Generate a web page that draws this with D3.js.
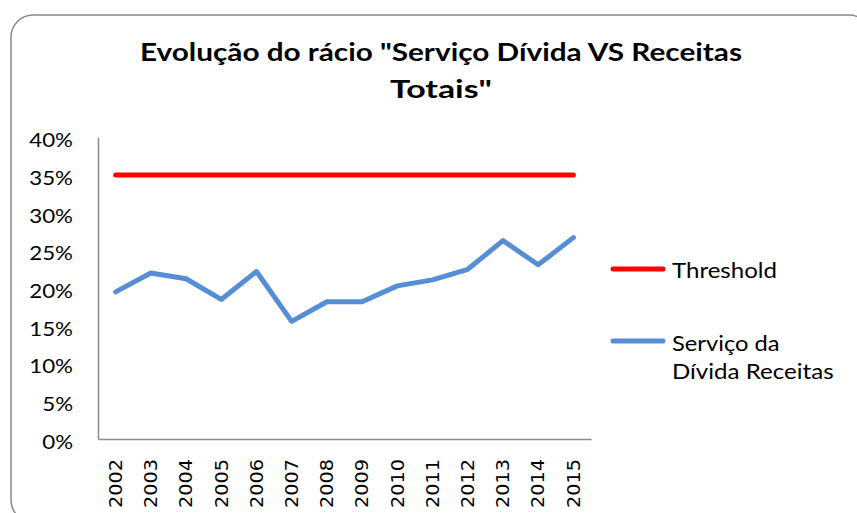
<!DOCTYPE html>
<html>
<head>
<meta charset="utf-8">
<script src="https://cdn.jsdelivr.net/npm/d3@7"></script>
<style>
  html, body { margin: 0; padding: 0; background: #fff; }
  svg { display: block; }
</style>
</head>
<body>
<svg id="chart" width="857" height="513"></svg>
<script>
const years = ["2002","2003","2004","2005","2006","2007","2008","2009","2010","2011","2012","2013","2014","2015"];
const servico = [19.5, 22.0, 21.25, 18.5, 22.2, 15.6, 18.2, 18.2, 20.3, 21.1, 22.5, 26.3, 23.1, 26.7];
const threshold = [35, 35, 35, 35, 35, 35, 35, 35, 35, 35, 35, 35, 35, 35];
const yTicks = [0, 5, 10, 15, 20, 25, 30, 35, 40];
const titleLines = ["Evolução do rácio \"Serviço Dívida VS Receitas", "Totais\""];
const seriesNames = ["Threshold", ["Serviço da", "Dívida Receitas"]];

(function () {
const svg = d3.select("#chart");
const stretch = 1.2;

// chart border
svg.append("rect")
  .attr("x", 11).attr("y", 15).attr("width", 860).attr("height", 507)
  .attr("rx", 22).attr("ry", 22)
  .attr("fill", "#fff").attr("stroke", "#898989").attr("stroke-width", 1.5);

// title
const titleWidths = [602, 102];
const titleY = [61, 98];
titleLines.forEach((t, i) => {
  svg.append("text")
    .attr("x", 441).attr("y", titleY[i])
    .attr("text-anchor", "middle")
    .attr("font-family", "Lato, 'Open Sans', sans-serif")
    .attr("font-weight", "bold")
    .attr("font-size", 25)
    .attr("fill", "#000")
    .attr("textLength", titleWidths[i])
    .attr("lengthAdjust", "spacingAndGlyphs")
    .text(t);
});

const mLeft = 98, mRight = 591, mTop = 137.3, mBottom = 439;
const x = d3.scaleBand().domain(years).range([mLeft, mRight]);
const y = d3.scaleLinear().domain([0, 40]).range([mBottom, mTop]);
const cx = d => x(d) + x.bandwidth() / 2;

// y axis
const yAxis = svg.append("g").attr("transform", `translate(${mLeft},0)`)
  .call(d3.axisLeft(y).tickValues(yTicks).tickSize(0).tickPadding(25).tickFormat(d => d + "%"));
yAxis.select(".domain").attr("stroke", "#8c8c8c").attr("stroke-width", 1.5);
yAxis.selectAll("text")
  .attr("font-family", "Lato, sans-serif")
  .attr("font-size", 18.6)
  .attr("fill", "#000")
  .attr("dy", "0.5em");

// x axis
const xAxis = svg.append("g").attr("transform", `translate(0,${mBottom})`)
  .call(d3.axisBottom(x).tickSize(0).tickFormat(""));
xAxis.select(".domain").attr("stroke", "#8c8c8c").attr("stroke-width", 1.5);

svg.append("g").selectAll("text").data(years).join("text")
  .attr("transform", d => `translate(${cx(d)},459) rotate(-90)`)
  .attr("text-anchor", "end")
  .attr("dy", "0.36em")
  .attr("font-family", "'DejaVu Sans', sans-serif")
  .attr("font-size", 17.4)
  .attr("fill", "#000")
  .attr("textLength", 49)
  .attr("lengthAdjust", "spacingAndGlyphs")
  .text(d => d);

// lines
const line = d3.line().x((d, i) => cx(years[i])).y(d => y(d));
svg.append("path").datum(threshold)
  .attr("d", line).attr("fill", "none")
  .attr("stroke", "#FF0000").attr("stroke-width", 5)
  .attr("stroke-linecap", "round").attr("stroke-linejoin", "round");
svg.append("path").datum(servico)
  .attr("d", line).attr("fill", "none")
  .attr("stroke", "#558ED5").attr("stroke-width", 5)
  .attr("stroke-linecap", "round").attr("stroke-linejoin", "round");

// legend
const leg = svg.append("g");
const legendItems = [
  {name: [seriesNames[0]], color: "#FF0000", ly: 269, ty: [278], widths: [105]},
  {name: seriesNames[1], color: "#558ED5", ly: 341, ty: [350.7, 379.3], widths: [107.6, 161.6]}
];
legendItems.forEach(it => {
  leg.append("line").attr("x1", 613).attr("x2", 663).attr("y1", it.ly).attr("y2", it.ly)
    .attr("stroke", it.color).attr("stroke-width", 5).attr("stroke-linecap", "round");
  it.name.forEach((n, j) => {
    leg.append("text").attr("x", 672).attr("y", it.ty[j])
      .attr("font-family", "Lato, sans-serif")
      .attr("font-size", 21)
      .attr("fill", "#000")
      .attr("textLength", it.widths[j])
      .attr("lengthAdjust", "spacingAndGlyphs")
      .text(n);
  });
});

// stretch y tick labels horizontally like the reference
yAxis.selectAll("text").each(function() {
  const len = this.getComputedTextLength();
  d3.select(this).attr("textLength", len * stretch).attr("lengthAdjust", "spacingAndGlyphs");
});
})();
</script>
</body>
</html>
